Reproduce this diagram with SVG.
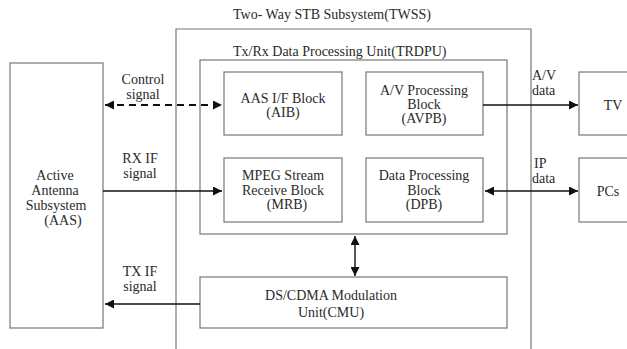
<svg xmlns="http://www.w3.org/2000/svg" width="627" height="349" viewBox="0 0 627 349" font-family="'Liberation Serif', 'Times New Roman', Times, 'DejaVu Serif', serif">
  <defs>
    <style>
      .box { fill: #ffffff; stroke: #777777; stroke-width: 1.2; }
      .frame { fill: none; stroke: #777777; stroke-width: 1.2; }
      text { font-family: 'Liberation Serif', 'Times New Roman', Times, 'DejaVu Serif', serif; font-size: 14px; fill: #2a2a2a; }
      .lbl { text-anchor: middle; }
      .wire { fill: none; stroke: #111111; stroke-width: 1.4; }
      .dash { stroke-dasharray: 7 5; stroke-width: 2; }
    </style>
    <marker id="head" viewBox="0 0 10 10" refX="10" refY="5" markerWidth="16" markerHeight="9" markerUnits="userSpaceOnUse" orient="auto-start-reverse">
      <path d="M0,0 L10,5 L0,10 Z" fill="#111111"/>
    </marker>
  </defs>

  <rect width="627" height="349" fill="#ffffff"/>

  <!-- Two-way STB subsystem frame (open at the bottom) -->
  <g id="twss">
    <path class="frame" d="M176,349 V29 H531 V349"/>
    <text x="233" y="19">Two-  Way STB Subsystem(TWSS)</text>
  </g>

  <g id="trdpu">
    <rect class="box" x="200" y="60" width="307" height="174"/>
    <text x="233" y="56">Tx/Rx Data Processing Unit(TRDPU)</text>
  </g>

  <g id="aas">
    <rect class="box" x="10" y="63" width="93" height="265"/>
    <text class="lbl" x="55" y="180">Active</text>
    <text class="lbl" x="55" y="195">Antenna</text>
    <text class="lbl" x="56" y="210">Subsystem</text>
    <text class="lbl" x="63" y="225">(AAS)</text>
  </g>

  <g id="aib">
    <rect class="box" x="224" y="72" width="118" height="63"/>
    <text class="lbl" x="283" y="103">AAS I/F Block</text>
    <text class="lbl" x="283" y="117">(AIB)</text>
  </g>

  <g id="avpb">
    <rect class="box" x="366" y="72" width="117" height="63"/>
    <text class="lbl" x="424" y="95">A/V Processing</text>
    <text class="lbl" x="424" y="109">Block</text>
    <text class="lbl" x="424" y="123">(AVPB)</text>
  </g>

  <g id="mrb">
    <rect class="box" x="224" y="158" width="118" height="64"/>
    <text class="lbl" x="283" y="180">MPEG Stream</text>
    <text class="lbl" x="283" y="195">Receive Block</text>
    <text class="lbl" x="287" y="209">(MRB)</text>
  </g>

  <g id="dpb">
    <rect class="box" x="366" y="158" width="117" height="64"/>
    <text class="lbl" x="424" y="180">Data Processing</text>
    <text class="lbl" x="424" y="195">Block</text>
    <text class="lbl" x="424" y="209">(DPB)</text>
  </g>

  <g id="cmu">
    <rect class="box" x="200" y="277" width="307" height="51"/>
    <text class="lbl" x="331" y="300">DS/CDMA Modulation</text>
    <text class="lbl" x="331" y="317">Unit(CMU)</text>
  </g>

  <g id="tv">
    <rect class="box" x="579" y="72" width="60" height="63"/>
    <text class="lbl" x="613" y="110">TV</text>
  </g>

  <g id="pcs">
    <rect class="box" x="579" y="158" width="60" height="64"/>
    <text class="lbl" x="608" y="196">PCs</text>
  </g>

  <!-- connectors -->
  <g id="connectors">
    <line class="wire dash" x1="105" y1="105" x2="222" y2="105" marker-start="url(#head)" marker-end="url(#head)"/>
    <line class="wire" x1="103" y1="191" x2="222" y2="191" marker-end="url(#head)"/>
    <line class="wire" x1="200" y1="304" x2="105" y2="304" marker-end="url(#head)"/>
    <line class="wire" x1="483" y1="105" x2="578" y2="105" marker-end="url(#head)"/>
    <line class="wire" x1="485" y1="191" x2="578" y2="191" marker-start="url(#head)" marker-end="url(#head)"/>
    <line class="wire" x1="355" y1="236" x2="355" y2="276" marker-start="url(#head)" marker-end="url(#head)"/>

    <text class="lbl" x="143" y="84">Control</text>
    <text class="lbl" x="143" y="99">signal</text>
    <text class="lbl" x="140" y="163">RX IF</text>
    <text class="lbl" x="140" y="178">signal</text>
    <text class="lbl" x="140" y="276">TX IF</text>
    <text class="lbl" x="140" y="291">signal</text>
    <text x="532" y="80">A/V</text>
    <text x="532" y="95">data</text>
    <text x="534" y="168">IP</text>
    <text x="532" y="183">data</text>
  </g>
</svg>
